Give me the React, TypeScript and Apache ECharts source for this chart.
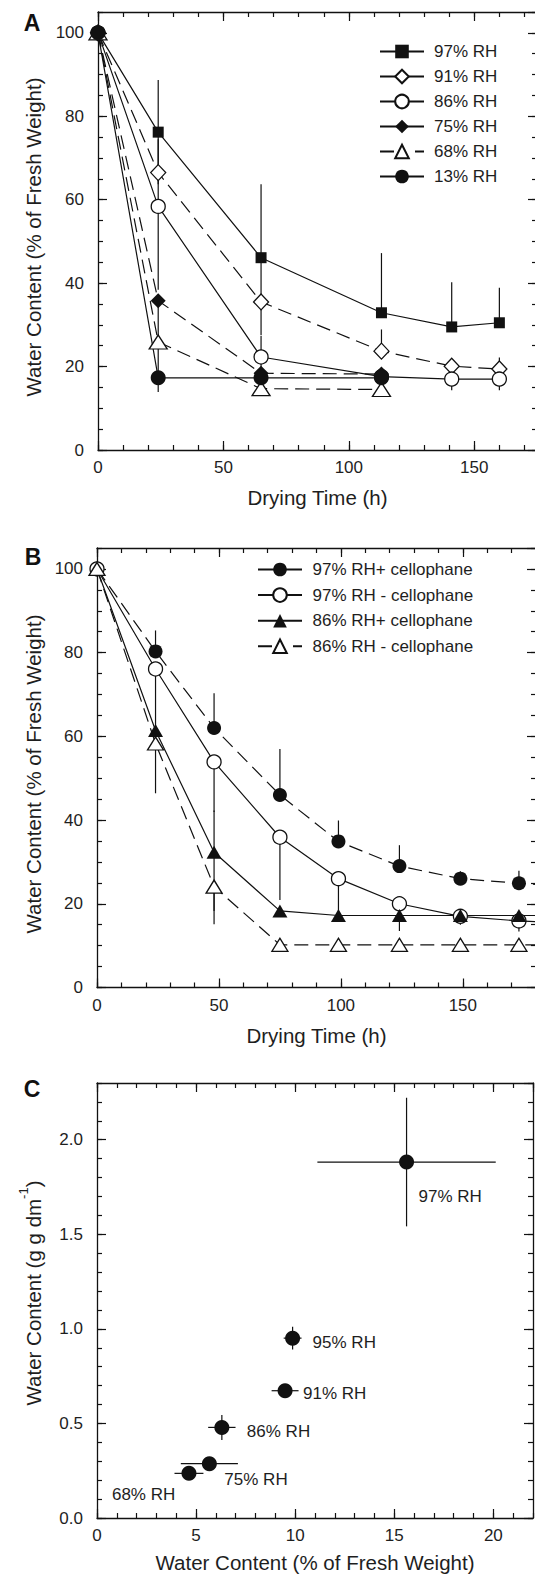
import React, { useEffect, useRef } from "react";
import * as echarts from "echarts";

const FONT = "'Liberation Sans', Arial, Helvetica, sans-serif";
const INK = "#111";
const TXT = "#1e1e1e";

// ---------- Panel A ----------
const timesA = [0, 24, 65, 113, 141, 160];
const namesA = ["97% RH", "91% RH", "86% RH", "75% RH", "68% RH", "13% RH"];
const rh97A = [100, 76.2, 46.1, 32.9, 29.5, 30.5];
const rh91A = [100, 66.5, 35.5, 23.7, 20.1, 19.4];
const rh86A = [100, 58.4, 22.3, 17.6, 17.0, 17.0];
const rh75A = [100, 35.8, 18.4, 18.2];
const rh68A = [100, 25.9, 14.7, 14.5];
const rh13A = [100, 17.3, 17.3, 17.3];
// error bars [below, above]
const rh97ErrA = [[0, 0], [12.5, 12.5], [9, 17.6], [0, 14.3], [0, 10.7], [0, 8.4]];
const rh91ErrA = [[0, 0], [8, 8], [8, 0], [0, 5.2], [0, 0], [0, 2.8]];
const rh86ErrA = [[0, 0], [20, 0], [5, 5], [0, 0], [2.7, 0], [2.7, 0]];
const rh75ErrA = [[0, 0], [10, 0], [0, 0], [0, 0]];
const rh68ErrA = [[0, 0], [8, 0], [1.4, 0], [1.2, 0]];
const rh13ErrA = [[0, 0], [3.4, 0], [0, 0], [0, 0]];

// ---------- Panel B ----------
const timesB = [0, 24, 48, 75, 99, 124, 149, 173, 196];
const namesB = ["97% RH+ cellophane", "97% RH - cellophane", "86% RH+ cellophane", "86% RH - cellophane"];
const rh97PlusB = [100, 80.3, 62.0, 46.0, 34.9, 29.0, 26.0, 24.9, 24.0];
const rh97MinusB = [100, 76.1, 53.9, 35.9, 26.0, 20.0, 17.0, 15.9, 15.3];
const rh86PlusB = [100, 61.4, 32.3, 18.3, 17.2, 17.2, 17.2, 17.2, 17.2];
const rh86MinusB = [100, 58.3, 24.1, 10.2, 10.2, 10.2, 10.2, 10.2, 10.2];
const rh97PlusErrB = [[0, 0], [0, 5], [0, 8.3], [0, 11], [0, 5], [0, 5], [0, 1.8], [0, 3], [0, 0]];
const rh97MinusErrB = [[0, 0], [15, 0], [12, 0], [15, 0], [10, 0], [0, 0], [2, 0], [2.5, 0], [0, 0]];
const rh86PlusErrB = [[0, 0], [15, 0], [14, 10], [0, 0], [0, 0], [3.7, 0], [0, 0], [0, 0], [0, 0]];
const rh86MinusErrB = [[0, 0], [0, 0], [9, 0], [0, 0], [0, 0], [0, 0], [0, 0], [0, 0], [0, 0]];

// ---------- Panel C ----------
const labelsC = ["97% RH", "95% RH", "91% RH", "86% RH", "75% RH", "68% RH"];
const freshWeightC = [15.62, 9.87, 9.49, 6.3, 5.67, 4.64];
const gPerDmC = [1.882, 0.951, 0.673, 0.479, 0.287, 0.236];
const freshWeightErrC = [4.5, 0.45, 0.68, 0.69, 1.44, 0.73];
const gPerDmErrC = [0.34, 0.06, 0, 0.066, 0, 0];
const labelOffsetsC = [[12, 34], [20, 4], [18, 3], [25, 4], [15, 16], [-77, 21]];

type AxisSpec = {
  min: number; max: number; major: number; minor: number;
  fmt?: (v: number) => string; name?: string; nameGap?: number;
};

function makeAxes(g: number, dim: "x" | "y", s: AxisSpec) {
  const near = dim === "x" ? "bottom" : "left";
  const far = dim === "x" ? "top" : "right";
  const base = { type: "value", gridIndex: g, min: s.min, max: s.max, splitLine: { show: false } };
  const line = { show: true, onZero: false, lineStyle: { color: INK, width: 1.3 } };
  const noLine = { show: false, onZero: false };
  const majorTick = { show: true, inside: true, length: 9, lineStyle: { color: INK, width: 1.2 } };
  const minorTick = { show: true, inside: true, length: 5, lineStyle: { color: INK, width: 1.2 } };
  const label: any = {
    show: true, margin: dim === "x" ? 9 : 14, fontSize: 17, fontFamily: FONT, color: TXT,
    showMaxLabel: false,
  };
  if (s.fmt) label.formatter = s.fmt;
  const main: any = { ...base, position: near, interval: s.major, axisLine: line, axisTick: majorTick, axisLabel: label };
  if (s.name) {
    main.name = s.name;
    main.nameLocation = "middle";
    main.nameGap = s.nameGap;
    main.nameTextStyle = { fontSize: 20.5, fontFamily: FONT, color: TXT };
  }
  return [
    main,
    { ...base, position: near, interval: s.minor, axisLine: noLine, axisTick: minorTick, axisLabel: { show: false } },
    { ...base, position: far, interval: s.major, axisLine: line, axisTick: majorTick, axisLabel: { show: false } },
    { ...base, position: far, interval: s.minor, axisLine: noLine, axisTick: minorTick, axisLabel: { show: false } },
  ];
}

const vErrRender = (params: any, api: any) => {
  const x = api.value(0), y = api.value(1), lo = api.value(2), hi = api.value(3);
  const a = api.coord([x, y - lo]);
  const b = api.coord([x, y + hi]);
  return { type: "line", shape: { x1: a[0], y1: a[1], x2: b[0], y2: b[1] }, style: { stroke: INK, lineWidth: 1.2 } };
};

const xyErrRender = (params: any, api: any) => {
  const x = api.value(0), y = api.value(1), ex = api.value(2), ey = api.value(3);
  const l = api.coord([x - ex, y]), r = api.coord([x + ex, y]);
  const t = api.coord([x, y + ey]), b = api.coord([x, y - ey]);
  return {
    type: "group",
    children: [
      { type: "line", shape: { x1: l[0], y1: l[1], x2: r[0], y2: r[1] }, style: { stroke: INK, lineWidth: 1.2 } },
      { type: "line", shape: { x1: t[0], y1: t[1], x2: b[0], y2: b[1] }, style: { stroke: INK, lineWidth: 1.2 } },
    ],
  };
};

function errSeries(axis: number, times: number[], vals: number[], errs: number[][]) {
  const data = vals
    .map((v, i) => [times[i], v, errs[i][0], errs[i][1]])
    .filter((d) => d[2] > 0 || d[3] > 0);
  return {
    type: "custom", xAxisIndex: axis, yAxisIndex: axis, z: 1, silent: true,
    encode: { x: 0, y: 1 }, renderItem: vErrRender, data,
  };
}

function lineSeries(
  axis: number, name: string, times: number[], vals: number[],
  symbol: string, size: any, filled: boolean, dashed: boolean,
) {
  return {
    type: "line", name, xAxisIndex: axis, yAxisIndex: axis, z: 2, silent: true,
    data: vals.map((v, i) => [times[i], v]),
    symbol, symbolSize: size, showSymbol: true, showAllSymbol: true,
    lineStyle: { color: INK, width: 1.2, type: dashed ? [14, 7] : "solid" },
    itemStyle: { color: filled ? INK : "#fff", borderColor: INK, borderWidth: filled ? 0 : 1.3, opacity: 1 },
    emphasis: { disabled: true },
  };
}

const DASH_LEGEND = [14, 21, 9, 10];

function buildOption(): any {
  const grids = [
    { left: 98, top: 12, width: 439, height: 438 },
    { left: 97, top: 548, width: 439, height: 439.5 },
    { left: 97, top: 1083, width: 436, height: 436 },
  ];
  const xAxes = [
    ...makeAxes(0, "x", { min: 0, max: 175, major: 50, minor: 10, name: "Drying Time (h)", nameGap: 37 }),
    ...makeAxes(1, "x", { min: 0, max: 180, major: 50, minor: 10, name: "Drying Time (h)", nameGap: 37 }),
    ...makeAxes(2, "x", { min: 0, max: 22, major: 5, minor: 1, name: "Water Content (% of Fresh Weight)", nameGap: 34 }),
  ];
  const yAxes = [
    ...makeAxes(0, "y", { min: 0, max: 105, major: 20, minor: 5 }),
    ...makeAxes(1, "y", { min: 0, max: 105, major: 20, minor: 5 }),
    ...makeAxes(2, "y", { min: 0, max: 2.3, major: 0.5, minor: 0.1, fmt: (v: number) => v.toFixed(1) }),
  ];

  const series: any[] = [
    // Panel A
    errSeries(0, timesA, rh97A, rh97ErrA),
    errSeries(0, timesA, rh91A, rh91ErrA),
    errSeries(0, timesA, rh86A, rh86ErrA),
    errSeries(0, timesA, rh75A, rh75ErrA),
    errSeries(0, timesA, rh68A, rh68ErrA),
    errSeries(0, timesA, rh13A, rh13ErrA),
    lineSeries(0, namesA[0], timesA, rh97A, "rect", 11, true, false),
    lineSeries(0, namesA[1], timesA, rh91A, "diamond", [15, 16], false, true),
    lineSeries(0, namesA[2], timesA, rh86A, "circle", 14, false, false),
    lineSeries(0, namesA[3], timesA, rh75A, "diamond", [15, 15], true, true),
    lineSeries(0, namesA[4], timesA, rh68A, "triangle", [18, 14], false, true),
    lineSeries(0, namesA[5], timesA, rh13A, "circle", 15, true, false),
    // Panel B
    errSeries(4, timesB, rh97PlusB, rh97PlusErrB),
    errSeries(4, timesB, rh97MinusB, rh97MinusErrB),
    errSeries(4, timesB, rh86PlusB, rh86PlusErrB),
    errSeries(4, timesB, rh86MinusB, rh86MinusErrB),
    lineSeries(4, namesB[0], timesB, rh97PlusB, "circle", 14, true, true),
    lineSeries(4, namesB[1], timesB, rh97MinusB, "circle", 14, false, false),
    lineSeries(4, namesB[2], timesB, rh86PlusB, "triangle", [15, 13], true, false),
    lineSeries(4, namesB[3], timesB, rh86MinusB, "triangle", [16, 13], false, true),
    // Panel C
    {
      type: "custom", xAxisIndex: 8, yAxisIndex: 8, z: 1, silent: true,
      encode: { x: 0, y: 1 }, renderItem: xyErrRender,
      data: freshWeightC.map((x, i) => [x, gPerDmC[i], freshWeightErrC[i], gPerDmErrC[i]]),
    },
    {
      type: "scatter", xAxisIndex: 8, yAxisIndex: 8, z: 3, silent: true,
      symbol: "circle", symbolSize: 15, itemStyle: { color: INK, opacity: 1 },
      emphasis: { disabled: true },
      label: {
        show: true, position: "inside", align: "left", verticalAlign: "middle",
        fontSize: 17, fontFamily: FONT, color: TXT, textBorderWidth: 0, opacity: 1,
        formatter: (p: any) => labelsC[p.dataIndex],
      },
      data: freshWeightC.map((x, i) => ({ value: [x, gPerDmC[i]], label: { offset: labelOffsetsC[i] } })),
    },
  ];

  const legendBase = {
    orient: "vertical", padding: 0, itemWidth: 44, itemHeight: 17, selectedMode: false,
    align: "left",
  };

  return {
    animation: false,
    backgroundColor: "#fff",
    textStyle: { fontFamily: FONT },
    grid: grids,
    xAxis: xAxes,
    yAxis: yAxes,
    legend: [
      {
        ...legendBase, left: 379, top: 43, itemGap: 8,
        textStyle: { fontSize: 17, fontFamily: FONT, color: TXT, lineHeight: 17, padding: [0, 0, 0, 5] },
        data: namesA.map((n) => ({ name: n, lineStyle: n === "68% RH" ? { type: DASH_LEGEND } : { type: "solid" } })),
      },
      {
        ...legendBase, left: 257, top: 561, itemGap: 8.6,
        textStyle: { fontSize: 17, fontFamily: FONT, color: TXT, lineHeight: 17, padding: [0, 0, 0, 5.5] },
        data: namesB.map((n) => ({ name: n, lineStyle: n === "86% RH - cellophane" ? { type: DASH_LEGEND } : { type: "solid" } })),
      },
    ],
    graphic: [
      { type: "text", x: 32, y: 23, style: { text: "A", fontSize: 23, fontWeight: "bold", fontFamily: FONT, fill: INK, align: "center", verticalAlign: "middle" } },
      { type: "text", x: 33, y: 557, style: { text: "B", fontSize: 23, fontWeight: "bold", fontFamily: FONT, fill: INK, align: "center", verticalAlign: "middle" } },
      { type: "text", x: 32, y: 1089, style: { text: "C", fontSize: 23, fontWeight: "bold", fontFamily: FONT, fill: INK, align: "center", verticalAlign: "middle" } },
      { type: "text", x: 33, y: 237, rotation: Math.PI / 2, style: { text: "Water Content (% of Fresh Weight)", fontSize: 20.5, fontFamily: FONT, fill: TXT, align: "center", verticalAlign: "middle" } },
      { type: "text", x: 33, y: 774, rotation: Math.PI / 2, style: { text: "Water Content (% of Fresh Weight)", fontSize: 20.5, fontFamily: FONT, fill: TXT, align: "center", verticalAlign: "middle" } },
      {
        type: "text", x: 33, y: 1293, rotation: Math.PI / 2,
        style: {
          text: "Water Content (g g dm{s|-1})", fontSize: 20.5, fontFamily: FONT, fill: TXT,
          align: "center", verticalAlign: "middle",
          rich: { s: { fontSize: 13, fontFamily: FONT, fill: TXT, padding: [0, 0, 20, 0] } },
        },
      },
    ],
    series,
  };
}

export default function App() {
  const ref = useRef<HTMLDivElement>(null);
  useEffect(() => {
    const chart = echarts.init(ref.current!, undefined, { renderer: "svg" });
    chart.setOption(buildOption());
    return () => chart.dispose();
  }, []);
  return (
    <div style={{ position: "absolute", left: 0, top: 0, width: 535, height: 1574, overflow: "hidden", background: "#fff" }}>
      <div ref={ref} style={{ width: 545, height: 1574 }} />
    </div>
  );
}
